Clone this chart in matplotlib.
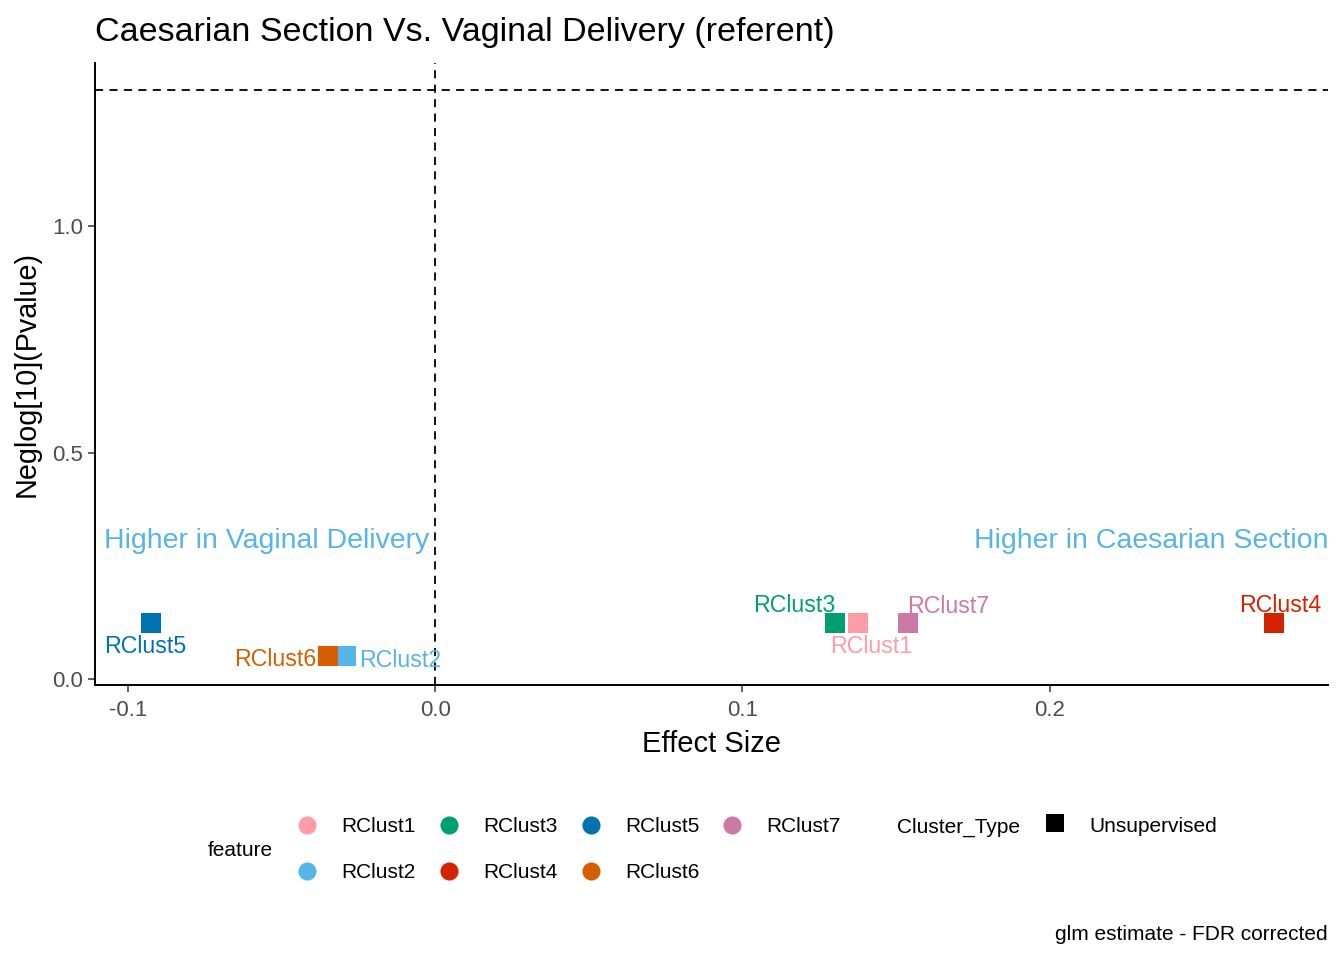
import matplotlib
matplotlib.use("Agg")
from matplotlib import pyplot as plt

plt.rcParams['font.family'] = ['Liberation Sans', 'DejaVu Sans']

# data
features = ['RClust1', 'RClust2', 'RClust3', 'RClust4', 'RClust5', 'RClust6', 'RClust7']
effect_size = [0.1375, -0.029, 0.130, 0.273, -0.0925, -0.0349, 0.154]
neglog_p = [0.124, 0.051, 0.124, 0.124, 0.124, 0.051, 0.124]
colors = ['#FF9DA7', '#56B4E9', '#009E73', '#D52300', '#0072B2', '#D55E00', '#CC79A7']
cluster_type = 'Unsupervised'
x_ticks = [-0.1, 0.0, 0.1, 0.2]
y_ticks = [0.0, 0.5, 1.0]
sig_line = 1.301  # -log10(0.05)

# label offsets in pixels (text placement, like ggrepel)
label_offsets = {
    'RClust1': (14, -24, 'center'),
    'RClust2': (13, -4, 'left'),
    'RClust3': (-40, 17, 'center'),
    'RClust4': (6, 17, 'center'),
    'RClust5': (-6, -24, 'center'),
    'RClust6': (-12, -3, 'right'),
    'RClust7': (40, 16, 'center'),
}

W, H = 1344, 960
fig = plt.figure(figsize=(W / 100, H / 100), dpi=100)
ax = fig.add_axes([95 / W, 1 - 685 / H, (1328 - 95) / W, (685 - 63) / H])

ax.axhline(sig_line, color='black', lw=1.3, ls=(0, (4.5, 3.5)), zorder=1)
ax.axvline(0, color='black', lw=1.3, ls=(0, (4.5, 3.5)), zorder=1)

for f, xv, yv, c in zip(features, effect_size, neglog_p, colors):
    ax.scatter(xv, yv, marker='s', s=190, color=c, linewidths=0, zorder=3)
    dx, dy, ha = label_offsets[f]
    ax.annotate(f, (xv, yv), xytext=(dx, dy), textcoords='offset pixels',
                ha=ha, va='center', color=c, fontsize=16.7, zorder=4)

ax.text(-0.1078, 0.304, 'Higher in Vaginal Delivery', color='#56B4E9',
        fontsize=20.5, ha='left', va='center')
ax.text(0.2906, 0.304, 'Higher in Caesarian Section', color='#56B4E9',
        fontsize=20.5, ha='right', va='center')

ax.set_xlim(-0.1107, 0.2906)
ax.set_ylim(-0.013, 1.360)
ax.set_xticks(x_ticks)
ax.set_xticklabels([f'{t:.1f}' for t in x_ticks])
ax.set_yticks(y_ticks)
ax.set_yticklabels([f'{t:.1f}' for t in y_ticks])
ax.tick_params(labelsize=16, colors='#333333', labelcolor='#4D4D4D', length=5, width=1.1)
ax.tick_params(axis='x', pad=6)
for s in ['top', 'right']:
    ax.spines[s].set_visible(False)
for s in ['left', 'bottom']:
    ax.spines[s].set_linewidth(1.4)

ax.set_xlabel('Effect Size', fontsize=21, labelpad=6)
ax.set_ylabel('Neglog[10](Pvalue)', fontsize=20.7, labelpad=8)
fig.text(95 / W, 1 - 32 / H, 'Caesarian Section Vs. Vaginal Delivery (referent)',
         fontsize=24.5, ha='left', va='center')

# legend drawn on an overlay in pixel coordinates
lg = fig.add_axes([0, 0, 1, 1], facecolor='none')
lg.set_xlim(0, W)
lg.set_ylim(H, 0)
lg.axis('off')
leg_fs = 15
lg.text(208, 851, 'feature', fontsize=leg_fs, ha='left', va='center')
col_x = [307, 449, 591, 732]
row_y = [825, 871]
for i, (f, c) in enumerate(zip(features, colors)):
    cx = col_x[i // 2]
    cy = row_y[i % 2]
    lg.scatter(cx, cy, s=170, color=c, marker='o', linewidths=0)
    lg.text(cx + 34, cy + 2, f, fontsize=leg_fs, ha='left', va='center')
lg.text(897, 827, 'Cluster_Type', fontsize=leg_fs, ha='left', va='center')
lg.scatter(1055, 823, s=150, color='black', marker='s', linewidths=0)
lg.text(1089, 827, cluster_type, fontsize=leg_fs, ha='left', va='center')

fig.text(1328 / W, 1 - 935 / H, 'glm estimate - FDR corrected', fontsize=leg_fs,
         ha='right', va='center')

fig.savefig('out.png', dpi=100)
